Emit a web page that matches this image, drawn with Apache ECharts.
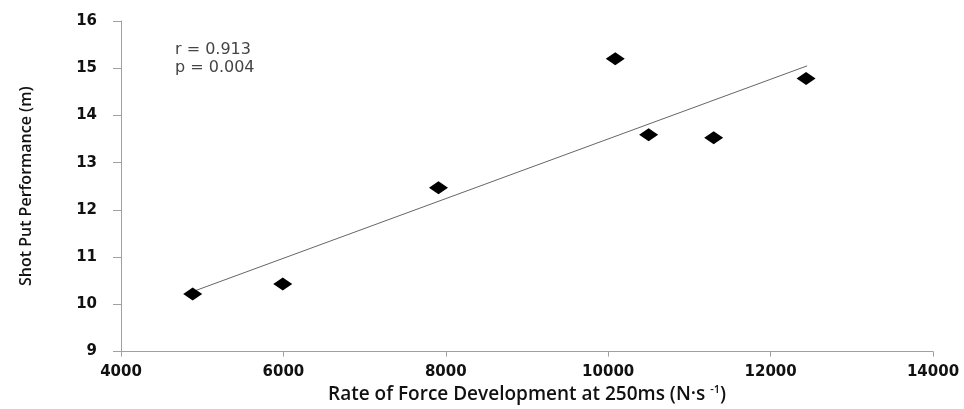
<!DOCTYPE html>
<html>
<head>
<meta charset="utf-8">
<script src="https://cdn.jsdelivr.net/npm/echarts@6/dist/echarts.min.js"></script>
<style>html,body{margin:0;padding:0;background:#fff;}#c{width:964px;height:409px;}</style>
</head>
<body>
<div id="c"></div>
<script>
var rfdValues = [4883, 5992, 7910, 10087, 10498, 11299, 12437];
var shotPutValues = [10.22, 10.43, 12.47, 15.20, 13.59, 13.53, 14.78];
var trendX = [4883, 12450];
var trendY = [10.27, 15.05];
var statLines = ['r = 0.913', 'p = 0.004'];

var points = rfdValues.map(function (x, i) { return [x, shotPutValues[i]]; });
var trend = trendX.map(function (x, i) { return [x, trendY[i]]; });

var chart = echarts.init(document.getElementById('c'), null, {renderer: 'canvas'});
chart.setOption({
  animation: false,
  backgroundColor: '#ffffff',
  grid: {left: 121, right: 31, top: 21, bottom: 57},
  xAxis: {
    type: 'value', min: 4000, max: 14000, interval: 2000,
    splitLine: {show: false},
    axisLine: {show: true, lineStyle: {color: '#a0a0a0', width: 1}},
    axisTick: {show: true, length: 5, lineStyle: {color: '#a0a0a0'}},
    axisLabel: {color: '#111', fontFamily: 'DejaVu Sans', fontWeight: 'bold', fontSize: 15, margin: 13,
      formatter: function (v) { return String(v); }},
    name: 'Rate of Force Development at 250ms (N·s {sup|-1})',
    nameLocation: 'middle', nameGap: 32,
    nameTextStyle: {color: '#111', fontFamily: 'Open Sans', fontWeight: 600, fontSize: 19,
      rich: {sup: {fontSize: 11, fontFamily: 'Open Sans', fontWeight: 600, color: '#111', verticalAlign: 'top', padding: [0, 0, 9, 0]}}}
  },
  yAxis: {
    type: 'value', min: 9, max: 16, interval: 1,
    splitLine: {show: false},
    axisLine: {show: true, lineStyle: {color: '#a0a0a0', width: 1}},
    axisTick: {show: true, length: 8, lineStyle: {color: '#a0a0a0'}},
    axisLabel: {color: '#111', fontFamily: 'DejaVu Sans', fontWeight: 'bold', fontSize: 15, margin: 24},
    name: 'Shot Put Performance (m)',
    nameLocation: 'middle', nameGap: 87, nameRotate: 90,
    nameTextStyle: {color: '#111', fontFamily: 'Open Sans', fontWeight: 600, fontSize: 16}
  },
  graphic: [{
    type: 'text', left: 175, top: 41,
    style: {text: statLines.join('\n'), font: '16px "DejaVu Sans"', fill: '#444', lineHeight: 18}
  }],
  series: [{
    type: 'line', data: trend, symbol: 'none',
    lineStyle: {color: '#666', width: 1}, z: 1
  }, {
    type: 'scatter', data: points, symbol: 'diamond', symbolSize: [19, 13],
    itemStyle: {color: '#000', opacity: 1}, z: 2
  }]
});
</script>
</body>
</html>
